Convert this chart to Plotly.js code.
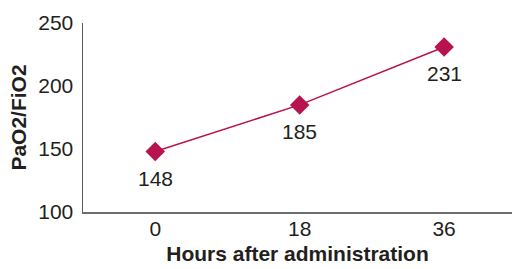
<!DOCTYPE html>
<html><head><meta charset="utf-8">
<script src="https://cdn.plot.ly/plotly-3.0.1.min.js"></script>
<style>html,body{margin:0;padding:0;background:#fff}#c{width:512px;height:269px}</style>
</head><body><div id="c"></div>
<script>
const categories = ["0", "18", "36"];
const values = [148, 185, 231];
const yTicks = [100, 150, 200, 250];

const font = "Liberation Sans, Arial, Helvetica, sans-serif";
const ink = "#231f20";
const trace = {
  x: categories, y: values, type: "scatter", mode: "lines+markers",
  line: {color: "#b8124f", width: 1.5},
  marker: {symbol: "diamond", size: 15, color: "#b8124f"},
  cliponaxis: false, hoverinfo: "none"
};
const annotations = categories.map((c, i) => ({
  x: categories.indexOf(c), y: values[i], xref: "x", yref: "y",
  text: String(values[i]), showarrow: false, yshift: -27,
  font: {family: font, size: 21, color: ink}
}));
const layout = {
  width: 512, height: 269,
  margin: {l: 83, r: 0, t: 23, b: 57},
  paper_bgcolor: "#fff", plot_bgcolor: "#fff",
  showlegend: false,
  font: {family: font, color: ink, size: 21},
  annotations: annotations,
  xaxis: {
    type: "category", range: [-0.5, 2.47],
    showgrid: false, zeroline: false,
    showline: true, linecolor: "#6d6e71", linewidth: 2,
    ticks: "", ticklabelstandoff: -3,
    tickfont: {family: font, size: 21, color: ink},
    title: {text: "<b>Hours after administration</b>", font: {family: font, size: 21, color: ink}, standoff: 7}
  },
  yaxis: {
    range: [100, 250], tickvals: yTicks,
    showgrid: false, zeroline: false,
    showline: true, linecolor: "#58595b", linewidth: 1.5,
    ticks: "", ticklabelstandoff: 4,
    tickfont: {family: font, size: 21, color: ink},
    title: {text: "<b>PaO2/FiO2</b>", font: {family: font, size: 21, color: ink}, standoff: 6}
  }
};
Plotly.newPlot("c", [trace], layout, {staticPlot: true, displayModeBar: false});
</script></body></html>
